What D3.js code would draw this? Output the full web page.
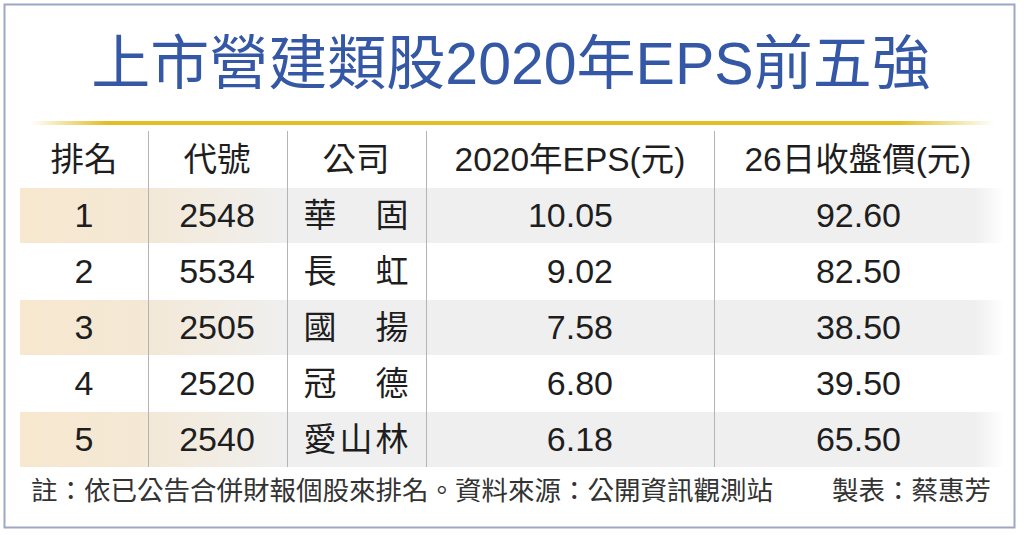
<!DOCTYPE html>
<html>

<head>
    <meta charset="utf-8">
    <style>
        body {
            margin: 0;
            background: #fff;
        }

        svg {
            display: block;
            font-family: 'Liberation Sans', 'Noto Sans CJK TC', sans-serif;
        }
    </style>
</head>

<body>
    <svg width="1024" height="535"></svg>
</body>

<script src="https://d3js.org/d3.v7.min.js"></script>

<script>
    // table data
    const title = "上市營建類股2020年EPS前五強"
    const headers = ["排名", "代號", "公司", "2020年EPS(元)", "26日收盤價(元)"]
    const ranks = ["1", "2", "3", "4", "5"]
    const codes = ["2548", "5534", "2505", "2520", "2540"]
    const companies = ["華固", "長虹", "國揚", "冠德", "愛山林"]
    const eps = [10.05, 9.02, 7.58, 6.80, 6.18]
    const closePrices = [92.60, 82.50, 38.50, 39.50, 65.50]
    const note = "註：依已公告合併財報個股來排名。資料來源：公開資訊觀測站"
    const credit = "製表：蔡惠芳"

    let svg = d3.select("svg")
    let width = 1024
    let height = 535

    let defs = svg.append("defs")

    let gold = defs.append("linearGradient").attr("id", "gold")
    gold.selectAll("stop")
        .data([[0, 0], [0.08, 1], [0.9, 1], [1, 0]])
        .join("stop")
        .attr("offset", d => d[0])
        .attr("stop-color", "#e2be24")
        .attr("stop-opacity", d => d[1])

    let band = defs.append("linearGradient").attr("id", "band")
    band.selectAll("stop")
        .data([[0, "#f7e8cf"], [0.12, "#f4e8d5"], [0.27, "#efefef"], [0.97, "#efefef"], [1, "#ffffff"]])
        .join("stop")
        .attr("offset", d => d[0])
        .attr("stop-color", d => d[1])

    // frame
    svg.append("rect")
        .attr("x", 4.5).attr("y", 4.5)
        .attr("width", 1010).attr("height", 523)
        .attr("fill", "#fff")
        .attr("stroke", "#9ea7c4")
        .attr("stroke-width", 2)

    svg.append("text")
        .attr("x", 511).attr("y", 64)
        .attr("text-anchor", "middle")
        .attr("dominant-baseline", "central")
        .attr("font-size", 59)
        .attr("fill", "#3558a6")
        .text(title)

    svg.append("rect")
        .attr("x", 30).attr("y", 121)
        .attr("width", 965).attr("height", 4)
        .attr("fill", "url(#gold)")

    // columns: left/right edges of the table and column borders
    let colEdges = [20, 148, 287, 426, 714, 1004]

    let y = d3.scaleBand()
        .domain(d3.range(ranks.length))
        .range([188, 468])

    svg.append("g")
        .selectAll("rect")
        .data(d3.range(ranks.length).filter(i => i % 2 == 0))
        .join("rect")
        .attr("x", colEdges[0])
        .attr("y", d => y(d))
        .attr("width", colEdges[5] - colEdges[0])
        .attr("height", y.bandwidth() - 1)
        .attr("fill", "url(#band)")

    svg.append("g")
        .selectAll("line")
        .data(colEdges.slice(1, 5))
        .join("line")
        .attr("x1", d => d + 0.5).attr("x2", d => d + 0.5)
        .attr("y1", 131).attr("y2", 467)
        .attr("stroke", "#b4b4b4")

    // header row
    let headerX = [84, 217, 356, 570, 858]
    svg.append("g")
        .selectAll("text")
        .data(headers)
        .join("text")
        .attr("x", (d, i) => headerX[i])
        .attr("y", 159)
        .attr("text-anchor", "middle")
        .attr("dominant-baseline", "central")
        .attr("font-size", 33.5)
        .attr("fill", "#1e1e1e")
        .text(d => d)

    let cells = svg.append("g")
        .attr("font-size", 34)
        .attr("fill", "#1e1e1e")
        .attr("dominant-baseline", "central")

    let rowY = i => y(i) + y.bandwidth() / 2 - 1

    cells.selectAll(".rank")
        .data(ranks)
        .join("text")
        .attr("class", "rank")
        .attr("x", 84)
        .attr("y", (d, i) => rowY(i))
        .attr("text-anchor", "middle")
        .text(d => d)

    cells.selectAll(".code")
        .data(codes)
        .join("text")
        .attr("class", "code")
        .attr("x", 217)
        .attr("y", (d, i) => rowY(i))
        .attr("text-anchor", "middle")
        .text(d => d)

    // company names are spread over the full cell width
    companies.forEach((name, i) => {
        let chars = Array.from(name)
        let cx = d3.scalePoint()
            .domain(d3.range(chars.length))
            .range([320, 392])
        cells.selectAll(".co" + i)
            .data(chars)
            .join("text")
            .attr("class", "co" + i)
            .attr("x", (d, j) => cx(j))
            .attr("y", rowY(i))
            .attr("text-anchor", "middle")
            .attr("font-size", 33)
            .text(d => d)
    })

    cells.selectAll(".eps")
        .data(eps)
        .join("text")
        .attr("class", "eps")
        .attr("x", 613)
        .attr("y", (d, i) => rowY(i))
        .attr("text-anchor", "end")
        .text(d => d3.format(".2f")(d))

    cells.selectAll(".price")
        .data(closePrices)
        .join("text")
        .attr("class", "price")
        .attr("x", 901)
        .attr("y", (d, i) => rowY(i))
        .attr("text-anchor", "end")
        .text(d => d3.format(".2f")(d))

    // footer
    svg.append("text")
        .attr("x", 31).attr("y", 491)
        .attr("dominant-baseline", "central")
        .attr("font-size", 26.5)
        .attr("fill", "#333")
        .text(note)

    svg.append("text")
        .attr("x", 991).attr("y", 491)
        .attr("text-anchor", "end")
        .attr("dominant-baseline", "central")
        .attr("font-size", 26.5)
        .attr("fill", "#333")
        .text(credit)
</script>

</html>
